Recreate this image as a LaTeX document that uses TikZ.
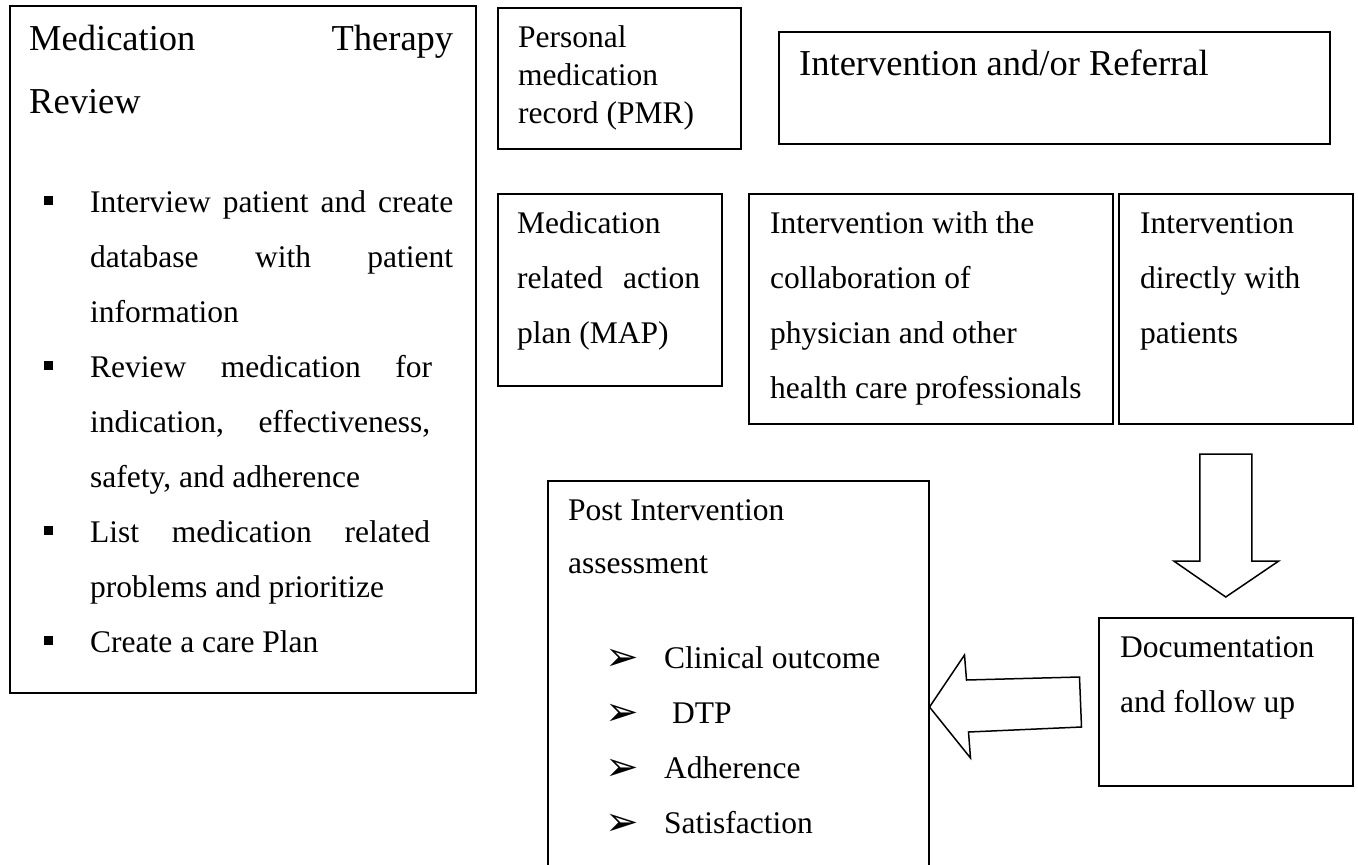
\documentclass[tikz,border=0pt]{standalone}
\usepackage{fontspec}
\setmainfont{Liberation Serif}
\newfontfamily\symfont{DejaVu Sans}
\usepackage{tikz}
\usetikzlibrary{calc}

% text set in lines, first baseline at the node's base
\newcommand{\txtlines}[2]{\parbox[t]{#1}{#2}}
\newcommand{\sqbul}{\leavevmode\llap{\raisebox{7pt}{\rule{9pt}{9pt}}\hspace{37pt}}}
\newcommand{\arbul}{\leavevmode\llap{\raisebox{-2pt}{\symfont\fontsize{40}{40}\selectfont ➢}\hspace{25pt}}}

\begin{document}
\begin{tikzpicture}[x=1pt, y=-1pt,
  card/.style={draw, line width=1.5pt, anchor=north west, inner sep=0pt},
  txt/.style={anchor=base west, inner sep=0pt, font=\fontsize{31.5}{55}\selectfont},
  bigtxt/.style={anchor=base west, inner sep=0pt, font=\fontsize{36.5}{63}\selectfont},
  blockarrow/.style={draw, line width=1.5pt, fill=white, line join=miter}]
 \useasboundingbox[fill=white] (0,0) rectangle (1358,865);

 % boxes
 \node[card, minimum width=466pt, minimum height=687pt] (mtr) at (9,5) {};
 \node[card, minimum width=243pt, minimum height=141pt] (pmr) at (497,7) {};
 \node[card, minimum width=551pt, minimum height=112pt] (referral) at (778,31) {};
 \node[card, minimum width=224pt, minimum height=192pt] (map) at (497,193) {};
 \node[card, minimum width=364pt, minimum height=230pt] (collab) at (748,193) {};
 \node[card, minimum width=234pt, minimum height=230pt] (direct) at (1118,193) {};
 \node[card, minimum width=381pt, minimum height=420pt] (post) at (547,480) {};
 \node[card, minimum width=254pt, minimum height=168pt] (docu) at (1098,617) {};

 % texts
 \node[bigtxt] (mtrtitle) at ($(mtr.north west)+(20,45)$)
   {\txtlines{430pt}{\makebox[424pt][s]{Medication Therapy}\\Review}};
 \node[txt] (mtrlist) at ($(mtr.north west)+(81,207)$)
   {\txtlines{370pt}{\sqbul\makebox[363pt][s]{Interview patient and create}\\
    \makebox[363pt][s]{database with patient}\\
    information\\
    \sqbul\makebox[342pt][s]{Review medication for}\\
    \makebox[340pt][s]{indication, effectiveness,}\\
    safety, and adherence\\
    \sqbul\makebox[340pt][s]{List medication related}\\
    problems and prioritize\\
    \sqbul Create a care Plan}};
 \node[txt, font=\fontsize{31.5}{38}\selectfont] (pmrtext) at ($(pmr.north west)+(21,40)$)
   {\txtlines{220pt}{Personal\\medication\\record (PMR)}};
 \node[bigtxt] (referraltext) at ($(referral.north west)+(21,44)$) {Intervention and/or Referral};
 \node[txt] (maptext) at ($(map.north west)+(20,40)$)
   {\txtlines{200pt}{Medication\\\makebox[183pt][s]{related action}\\plan (MAP)}};
 \node[txt] (collabtext) at ($(collab.north west)+(22,40)$)
   {\txtlines{340pt}{Intervention with the\\collaboration of\\physician and other\\health care professionals}};
 \node[txt] (directtext) at ($(direct.north west)+(22,40)$)
   {\txtlines{210pt}{Intervention\\directly with\\patients}};
 \node[txt, font=\fontsize{31.5}{53}\selectfont] (posttitle) at ($(post.north west)+(21,40)$)
   {\txtlines{350pt}{Post Intervention\\assessment}};
 \node[txt] (postlist) at ($(post.north west)+(117,188)$)
   {\txtlines{250pt}{\arbul Clinical outcome\\
    \arbul\hspace{8pt}DTP\\
    \arbul Adherence\\
    \arbul Satisfaction}};
 \node[txt] (docutext) at ($(docu.north west)+(22,40)$)
   {\txtlines{230pt}{Documentation\\and follow up}};

 % block arrows
 \coordinate (dtip) at ($(docu.north)+(0,-20)$);
 \draw[blockarrow] (dtip) -- ++(-52,-36) -- ++(26,0) -- ++(0,-107) -- ++(52,0)
   -- ++(0,107) -- ++(27,0) -- cycle;
 \coordinate (ltip) at ($(post.north east)+(0,227)$);
 \draw[blockarrow] (ltip) -- ++(35,-52) -- ++(2,25) -- ++(113,-3) -- ++(2,50)
   -- ++(-113,5) -- ++(2,26) -- cycle;
\end{tikzpicture}
\end{document}
